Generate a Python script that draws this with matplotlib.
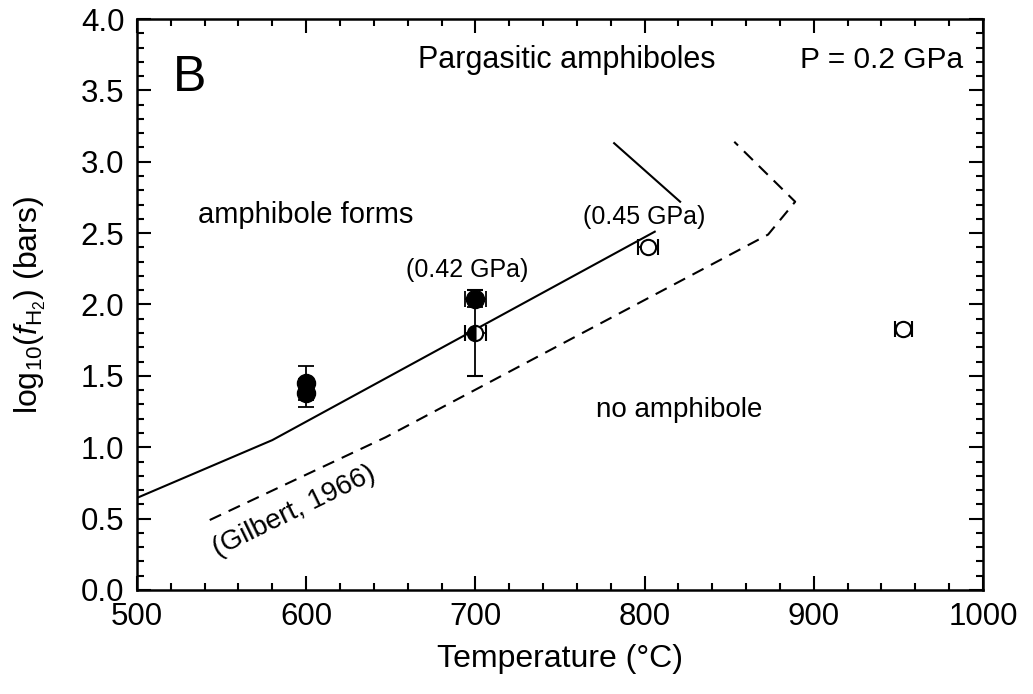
import matplotlib.pyplot as plt
from matplotlib.ticker import MultipleLocator

plt.rcParams['font.family'] = ['Liberation Sans', 'DejaVu Sans']
plt.rcParams['mathtext.fontset'] = 'custom'
plt.rcParams['mathtext.rm'] = 'Liberation Sans'
plt.rcParams['mathtext.it'] = 'Liberation Sans:italic'

# boundary curves
solid_T = [500, 580, 806]
solid_y = [0.645, 1.05, 2.51]
solid2_T = [782, 821]
solid2_y = [3.13, 2.72]
gilbert_T = [543, 647, 873, 889, 853]
gilbert_y = [0.49, 1.07, 2.49, 2.72, 3.14]

# filled symbols
fill_T = [600, 600, 700]
fill_y = [1.38, 1.45, 2.04]
fill_xerr = [0, 0, 6]
fill_yerr = [0.10, 0.12, 0.06]

# half-filled symbol
half_T = [700]
half_y = [1.80]
half_xerr = [6]
half_yerr = [0.30]

# open symbols
open_T = [802, 953]
open_y = [2.40, 1.83]
open_xerr = [6, 5]

fig = plt.figure(figsize=(10.33, 6.94), dpi=100)
ax = fig.add_axes([0.1326, 0.1499, 0.819, 0.8227])

ax.plot(solid_T, solid_y, color='black', lw=1.5)
ax.plot(solid2_T, solid2_y, color='black', lw=1.5)
ax.plot(gilbert_T, gilbert_y, color='black', lw=1.5, dashes=(6, 4))

eb = dict(ecolor='black', elinewidth=1.3, capsize=6, capthick=1.3)
ax.errorbar(fill_T, fill_y, xerr=fill_xerr, yerr=fill_yerr, fmt='o', ms=13,
            mfc='black', mec='black', zorder=3, **eb)
ax.errorbar(half_T, half_y, xerr=half_xerr, yerr=half_yerr, fmt='o', ms=11,
            fillstyle='left', mfc='black', mfcalt='white', mec='black',
            mew=1.5, zorder=4, **eb)
ax.errorbar(open_T, open_y, xerr=open_xerr, fmt='o', ms=11,
            mfc='white', mec='black', mew=1.5, zorder=4, **eb)

ax.set_xlim(500, 1000)
ax.set_ylim(0, 4)
ax.xaxis.set_major_locator(MultipleLocator(100))
ax.xaxis.set_minor_locator(MultipleLocator(20))
ax.yaxis.set_major_locator(MultipleLocator(0.5))
ax.yaxis.set_minor_locator(MultipleLocator(0.1))
ax.yaxis.set_major_formatter(plt.FuncFormatter(lambda v, p: f'{v:.1f}'))
ax.tick_params(which='both', direction='in', top=True, right=True, width=1.5,
               labelsize=22.5)
ax.tick_params(which='major', length=10)
ax.tick_params(axis='x', which='major', pad=9)
ax.tick_params(axis='y', which='major', pad=9)
ax.tick_params(which='minor', length=5)
for s in ax.spines.values():
    s.set_linewidth(1.8)

ax.set_xlabel('Temperature (°C)', fontsize=23, labelpad=8)
ax.set_ylabel(r'log$_{10}$($\mathit{f}_{\mathrm{H_2}}$) (bars)', fontsize=23, labelpad=24)

ax.text(531, 3.59, 'B', fontsize=36, ha='center', va='center')
ax.text(754, 3.71, 'Pargasitic amphiboles', fontsize=22, ha='center', va='center')
ax.text(988, 3.71, 'P = 0.2 GPa', fontsize=21.5, ha='right', va='center')
ax.text(600, 2.63, 'amphibole forms', fontsize=21, ha='center', va='center')
ax.text(771, 1.21, 'no amphibole', fontsize=20, ha='left', va='baseline')
ax.text(695, 2.24, '(0.42 GPa)', fontsize=18, ha='center', va='center')
ax.text(800, 2.61, '(0.45 GPa)', fontsize=18, ha='center', va='center')
ax.text(593, 0.55, '(Gilbert, 1966)', fontsize=20, ha='center', va='center',
        rotation=26)

fig.savefig('out.png', dpi=100)
